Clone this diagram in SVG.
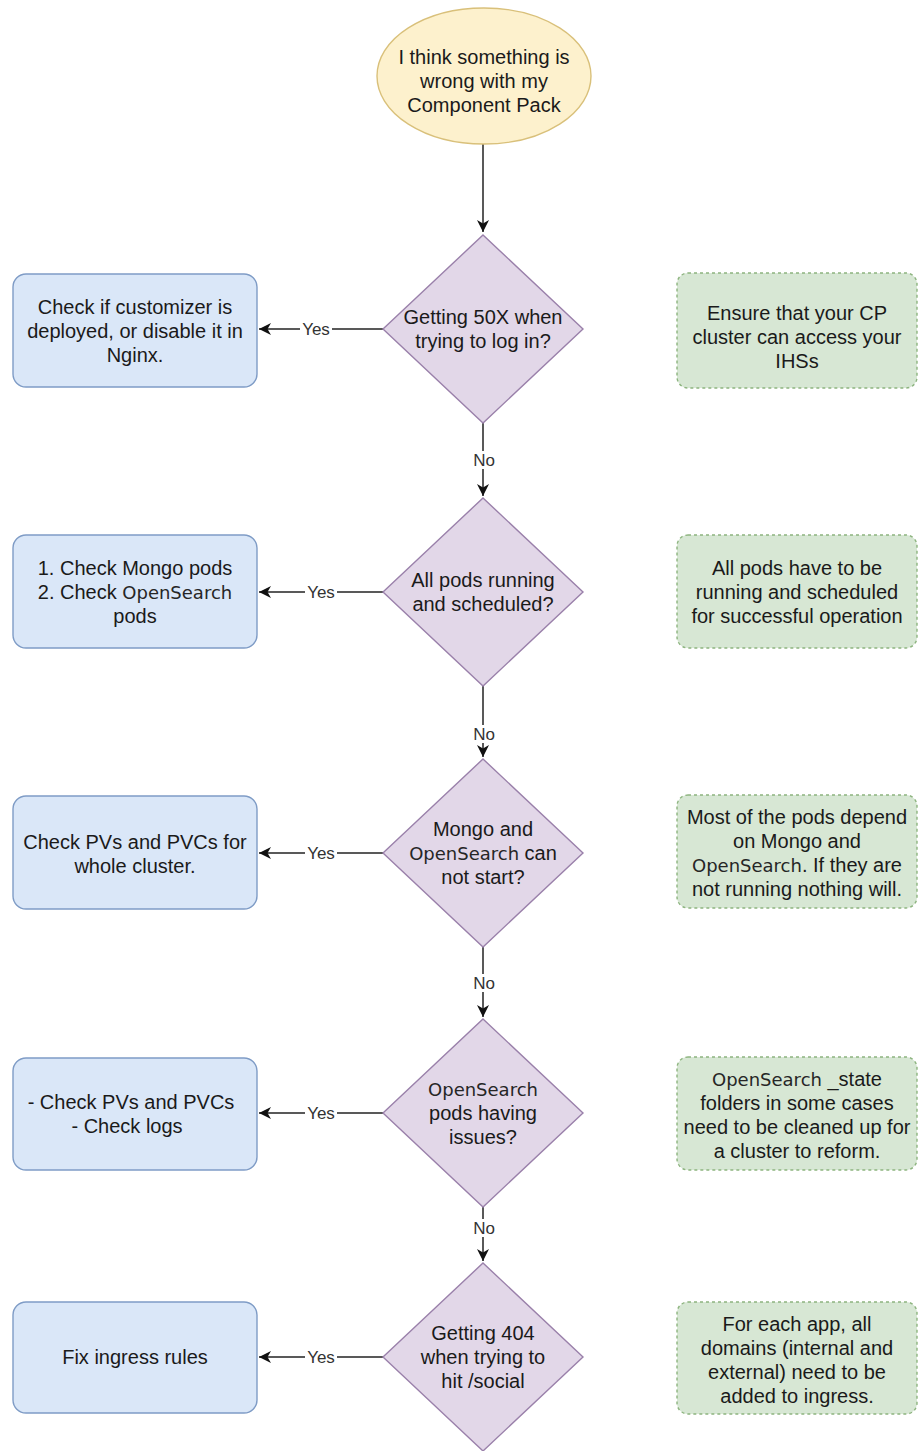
<svg xmlns="http://www.w3.org/2000/svg" width="919" height="1451" viewBox="0 0 919 1451">
<style>
.t{font-family:"Liberation Sans",Arial,sans-serif;font-size:20px;fill:#1a1a1a;text-anchor:middle}
.lbl{font-family:"Liberation Sans",Arial,sans-serif;font-size:17px;fill:#333;text-anchor:middle}
.os{font-family:"DejaVu Sans",sans-serif;font-size:18px;fill:#262626}
.box{fill:#dae7f8;stroke:#7f9cc6;stroke-width:1.4}
.dia{fill:#e2d7e8;stroke:#9a80aa;stroke-width:1.4}
.note{fill:#d7e7d4;stroke:#8db47f;stroke-width:1.4;stroke-dasharray:3 3}
.start{fill:#fdf1cd;stroke:#d9c07a;stroke-width:1.4}
.edge{fill:none;stroke:#222;stroke-width:1.5}
.bg{fill:#fff}
</style>
<defs>
<marker id="arr" markerUnits="userSpaceOnUse" markerWidth="14" markerHeight="12" refX="12" refY="6" orient="auto">
<path d="M0,0 L12,6 L0,12 L3.5,6 z" fill="#111"/>
</marker>
</defs>
<rect width="919" height="1451" fill="#fff"/>

<g id="connectors">
<line class="edge" x1="483" y1="144" x2="483" y2="232" marker-end="url(#arr)"/>
<line class="edge" x1="483" y1="423" x2="483" y2="496" marker-end="url(#arr)"/>
<rect class="bg" x="470" y="451" width="26" height="18"/>
<text class="lbl" x="484" y="466">No</text>
<line class="edge" x1="483" y1="686" x2="483" y2="757" marker-end="url(#arr)"/>
<rect class="bg" x="470" y="725" width="26" height="18"/>
<text class="lbl" x="484" y="740">No</text>
<line class="edge" x1="483" y1="947" x2="483" y2="1017" marker-end="url(#arr)"/>
<rect class="bg" x="470" y="974" width="26" height="18"/>
<text class="lbl" x="484" y="989">No</text>
<line class="edge" x1="483" y1="1207" x2="483" y2="1261" marker-end="url(#arr)"/>
<rect class="bg" x="470" y="1219" width="26" height="18"/>
<text class="lbl" x="484" y="1234">No</text>

<line class="edge" x1="383" y1="329" x2="259" y2="329" marker-end="url(#arr)"/>
<rect class="bg" x="300" y="320" width="32" height="18"/>
<text class="lbl" x="316" y="335">Yes</text>
<line class="edge" x1="383" y1="592" x2="259" y2="592" marker-end="url(#arr)"/>
<rect class="bg" x="305" y="583" width="32" height="18"/>
<text class="lbl" x="321" y="598">Yes</text>
<line class="edge" x1="383" y1="853" x2="259" y2="853" marker-end="url(#arr)"/>
<rect class="bg" x="305" y="844" width="32" height="18"/>
<text class="lbl" x="321" y="859">Yes</text>
<line class="edge" x1="383" y1="1113" x2="259" y2="1113" marker-end="url(#arr)"/>
<rect class="bg" x="305" y="1104" width="32" height="18"/>
<text class="lbl" x="321" y="1119">Yes</text>
<line class="edge" x1="383" y1="1357" x2="259" y2="1357" marker-end="url(#arr)"/>
<rect class="bg" x="305" y="1348" width="32" height="18"/>
<text class="lbl" x="321" y="1363">Yes</text>
</g>

<g id="start">
<ellipse class="start" cx="484" cy="76" rx="107" ry="68"/>
<text class="t" x="484" y="64">I think something is</text>
<text class="t" x="484" y="88">wrong with my</text>
<text class="t" x="484" y="112">Component Pack</text>
</g>

<g id="d1">
<polygon class="dia" points="483,235 583,329 483,423 383,329"/>
<text class="t" x="483" y="324">Getting 50X when</text>
<text class="t" x="483" y="348">trying to log in?</text>
</g>
<g id="d2">
<polygon class="dia" points="483,498 583,592 483,686 383,592"/>
<text class="t" x="483" y="587">All pods running</text>
<text class="t" x="483" y="611">and scheduled?</text>
</g>
<g id="d3">
<polygon class="dia" points="483,759 583,853 483,947 383,853"/>
<text class="t" x="483" y="836">Mongo and</text>
<text class="t" x="483" y="860"><tspan class="os">OpenSearch</tspan> can</text>
<text class="t" x="483" y="884">not start?</text>
</g>
<g id="d4">
<polygon class="dia" points="483,1019 583,1113 483,1207 383,1113"/>
<text class="t" x="483" y="1096"><tspan class="os">OpenSearch</tspan></text>
<text class="t" x="483" y="1120">pods having</text>
<text class="t" x="483" y="1144">issues?</text>
</g>
<g id="d5">
<polygon class="dia" points="483,1263 583,1357 483,1451 383,1357"/>
<text class="t" x="483" y="1340">Getting 404</text>
<text class="t" x="483" y="1364">when trying to</text>
<text class="t" x="483" y="1388">hit /social</text>
</g>

<g id="b1">
<rect class="box" x="13" y="274" width="244" height="113" rx="13"/>
<text class="t" x="135" y="314">Check if customizer is</text>
<text class="t" x="135" y="338">deployed, or disable it in</text>
<text class="t" x="135" y="362">Nginx.</text>
</g>
<g id="b2">
<rect class="box" x="13" y="535" width="244" height="113" rx="13"/>
<text class="t" x="135" y="575">1. Check Mongo pods</text>
<text class="t" x="135" y="599">2. Check <tspan class="os">OpenSearch</tspan></text>
<text class="t" x="135" y="623">pods</text>
</g>
<g id="b3">
<rect class="box" x="13" y="796" width="244" height="113" rx="13"/>
<text class="t" x="135" y="849">Check PVs and PVCs for</text>
<text class="t" x="135" y="873">whole cluster.</text>
</g>
<g id="b4">
<rect class="box" x="13" y="1058" width="244" height="112" rx="13"/>
<text class="t" x="131" y="1109">- Check PVs and PVCs</text>
<text class="t" x="127" y="1133">- Check logs</text>
</g>
<g id="b5">
<rect class="box" x="13" y="1302" width="244" height="111" rx="13"/>
<text class="t" x="135" y="1364">Fix ingress rules</text>
</g>

<g id="n1">
<rect class="note" x="677" y="273" width="240" height="115" rx="11"/>
<text class="t" x="797" y="320">Ensure that your CP</text>
<text class="t" x="797" y="344">cluster can access your</text>
<text class="t" x="797" y="368">IHSs</text>
</g>
<g id="n2">
<rect class="note" x="677" y="535" width="240" height="113" rx="11"/>
<text class="t" x="797" y="575">All pods have to be</text>
<text class="t" x="797" y="599">running and scheduled</text>
<text class="t" x="797" y="623">for successful operation</text>
</g>
<g id="n3">
<rect class="note" x="677" y="795" width="240" height="113" rx="11"/>
<text class="t" x="797" y="824">Most of the pods depend</text>
<text class="t" x="797" y="848">on Mongo and</text>
<text class="t" x="797" y="872"><tspan class="os">OpenSearch</tspan>. If they are</text>
<text class="t" x="797" y="896">not running nothing will.</text>
</g>
<g id="n4">
<rect class="note" x="677" y="1057" width="240" height="113" rx="11"/>
<text class="t" x="797" y="1086"><tspan class="os">OpenSearch</tspan> _state</text>
<text class="t" x="797" y="1110">folders in some cases</text>
<text class="t" x="797" y="1134">need to be cleaned up for</text>
<text class="t" x="797" y="1158">a cluster to reform.</text>
</g>
<g id="n5">
<rect class="note" x="677" y="1302" width="240" height="112" rx="11"/>
<text class="t" x="797" y="1331">For each app, all</text>
<text class="t" x="797" y="1355">domains (internal and</text>
<text class="t" x="797" y="1379">external) need to be</text>
<text class="t" x="797" y="1403">added to ingress.</text>
</g>
</svg>
